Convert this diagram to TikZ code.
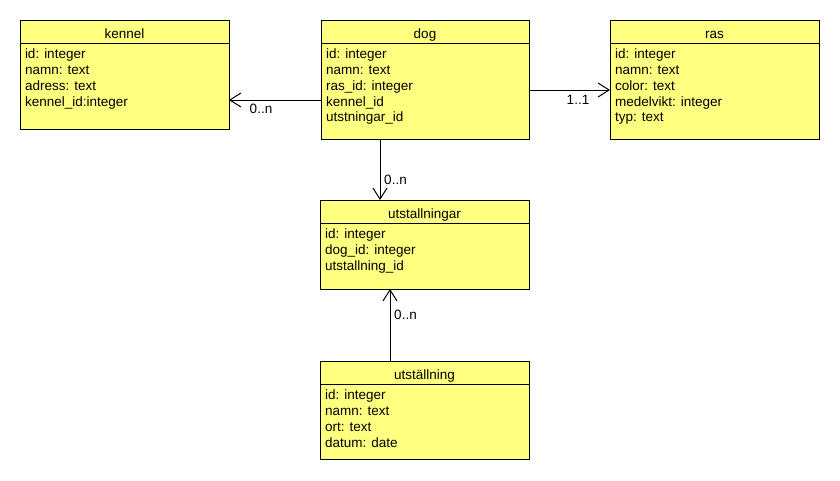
\documentclass[tikz,border=0pt]{standalone}
\usepackage{fontspec}
\setmainfont{Liberation Sans}
\usetikzlibrary{arrows.meta,calc}
\definecolor{classfill}{HTML}{FFFF80}
\tikzset{
  classbox/.style={draw=black, fill=classfill, line width=1pt, inner sep=0pt, outer sep=0pt, anchor=north west},
  classline/.style={draw=black, line width=1pt},
  txt/.style={inner sep=0pt, outer sep=0pt, font=\fontsize{13.5}{16}\selectfont},
  assoc/.style={draw=black, line width=1pt, -{Straight Barb[length=11pt,width=14pt]}},
  mult/.style={txt, anchor=center}
}
\newcommand{\umlclass}[7]{%
  \node[classbox, minimum width=#4pt, minimum height=#5pt] (#1) at (#2,#3) {};
  \draw[classline] ($(#1.north west)+(0,23)$) -- ($(#1.north east)+(0,23)$);
  \node[txt, anchor=base] (#1-title) at ($(#1.north)+(0,18.3)$) {#6};
  \foreach \t [count=\i] in {#7} {
    \node[txt, anchor=base west] (#1-\i) at ($(#1.north west)+(5,38.3+15.9*\i-15.9)$) {\t};
  }
}
\begin{document}
\begin{tikzpicture}[x=1pt,y=-1pt]
\useasboundingbox (0,0) rectangle (840,480);
\umlclass{kennel}{20}{20}{209}{109}{kennel}{id: integer, namn: text, adress: text, kennel\_id:integer}
\umlclass{dog}{321}{20}{208}{119}{dog}{id: integer, namn: text, ras\_id: integer, kennel\_id, utstningar\_id}
\umlclass{ras}{610}{20}{209}{119}{ras}{id: integer, namn: text, color: text, medelvikt: integer, typ: text}
\umlclass{utgar}{320}{200}{209}{89}{utstallningar}{id: integer, dog\_id: integer, utstallning\_id}
\umlclass{utst}{320}{361}{209}{98}{utställning}{id: integer, namn: text, ort: text, datum: date}

\draw[assoc] (dog.west |- 0,100) -- (kennel.east |- 0,100);
\draw[assoc] (dog.east |- 0,90) -- (ras.west |- 0,90);
\draw[assoc] (dog.south -| 380,0) -- (utgar.north -| 380,0);
\draw[assoc] (utst.north -| 390,0) -- (utgar.south -| 390,0);

\node[mult] (m1) at (261,109) {0..n};
\node[mult] (m2) at (578,99.5) {1..1};
\node[mult] (m3) at (395.5,179.5) {0..n};
\node[mult] (m4) at (405.5,314.5) {0..n};
\end{tikzpicture}
\end{document}
